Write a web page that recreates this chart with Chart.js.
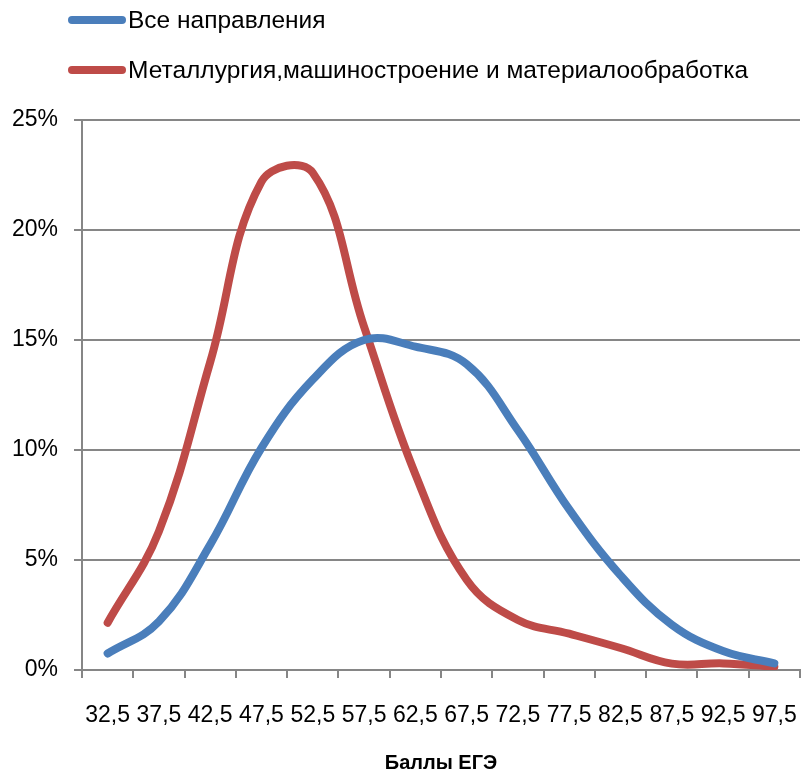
<!DOCTYPE html>
<html>
<head>
<meta charset="utf-8">
<script src="https://cdn.jsdelivr.net/npm/chart.js@4/dist/chart.umd.min.js"></script>
<style>
  html, body { margin: 0; padding: 0; background: #fff; }
  #wrap { width: 801px; height: 774px; }
</style>
</head>
<body>
<div id="wrap"><canvas id="myChart" width="801" height="774"></canvas></div>
<script>
// score bins (x axis)
const scores = ['32,5', '37,5', '42,5', '47,5', '52,5', '57,5', '62,5',
                '67,5', '72,5', '77,5', '82,5', '87,5', '92,5', '97,5'];

// share of students, %
const allFields = [0.75, 2.2, 5.7, 10.1, 13.2, 15.0, 14.7, 13.9, 10.9, 7.3, 4.3, 2.06, 0.86, 0.3];
const metallurgy = [2.15, 6.3, 14.0, 22.2, 22.6, 15.6, 8.9, 4.1, 2.27, 1.65, 1.0, 0.29, 0.3, 0.15];

const seriesNames = ['Все направления', 'Металлургия,машиностроение и материалообработка'];
const yTicks = [0, 5, 10, 15, 20, 25];

const FONT = 'Liberation Sans';
const gridColor = '#868686';

// legend drawn by hand: two rows, line sample then text
const stackedLegend = {
    id: 'stackedLegend',
    afterDraw(chart) {
        const ctx = chart.ctx;
        ctx.save();
        chart.data.datasets.forEach((ds, i) => {
            const y = 20 + i * 50;
            ctx.strokeStyle = ds.borderColor;
            ctx.lineWidth = 8;
            ctx.lineCap = 'round';
            ctx.beginPath();
            ctx.moveTo(72, y);
            ctx.lineTo(122, y);
            ctx.stroke();
            ctx.fillStyle = '#000';
            ctx.font = '24.5px "' + FONT + '"';
            ctx.textBaseline = 'middle';
            ctx.fillText(ds.label, 128, y + 1);
        });
        ctx.restore();
    }
};

const ctx = document.getElementById('myChart').getContext('2d');
new Chart(ctx, {
    type: 'line',
    data: {
        labels: scores,
        datasets: [
            {
                label: seriesNames[0],
                data: allFields,
                borderColor: '#4A7EBB',
                borderWidth: 8,
                borderCapStyle: 'round',
                pointRadius: 0,
                tension: 0.4
            },
            {
                label: seriesNames[1],
                data: metallurgy,
                borderColor: '#BE4B48',
                borderWidth: 8,
                borderCapStyle: 'round',
                pointRadius: 0,
                tension: 0.4
            }
        ]
    },
    options: {
        responsive: false,
        animation: false,
        layout: { padding: { top: 120, left: 12, right: 1, bottom: 0 } },
        plugins: {
            legend: { display: false },
            tooltip: { enabled: false }
        },
        scales: {
            x: {
                offset: true,
                afterFit(scale) {
                    // no extra side padding for the outer labels
                    scale.paddingLeft = 0;
                    scale.paddingRight = 0;
                },
                grid: {
                    offset: true,
                    drawOnChartArea: false,
                    color: gridColor,
                    lineWidth: 2,
                    tickLength: 8
                },
                border: { color: gridColor, width: 2 },
                ticks: {
                    autoSkip: false,
                    maxRotation: 0,
                    padding: 26,
                    color: '#000',
                    font: { family: FONT, size: 23, lineHeight: 1 }
                },
                title: {
                    display: true,
                    text: 'Баллы ЕГЭ',
                    color: '#000',
                    font: { family: FONT, size: 20, weight: 'bold', lineHeight: 1 },
                    padding: { top: 0, bottom: 1 }
                }
            },
            y: {
                min: 0,
                max: 25,
                afterBuildTicks(scale) {
                    scale.ticks = yTicks.map(v => ({ value: v }));
                },
                afterFit(scale) {
                    scale.width = 70;
                    scale.paddingTop = 0;
                    scale.paddingBottom = 0;
                },
                grid: {
                    color: gridColor,
                    lineWidth: 2,
                    tickLength: 8
                },
                border: { color: gridColor, width: 2 },
                ticks: {
                    padding: 16,
                    color: '#000',
                    font: { family: FONT, size: 23 },
                    callback: v => v + '%'
                }
            }
        }
    },
    plugins: [stackedLegend]
});
</script>
</body>
</html>
